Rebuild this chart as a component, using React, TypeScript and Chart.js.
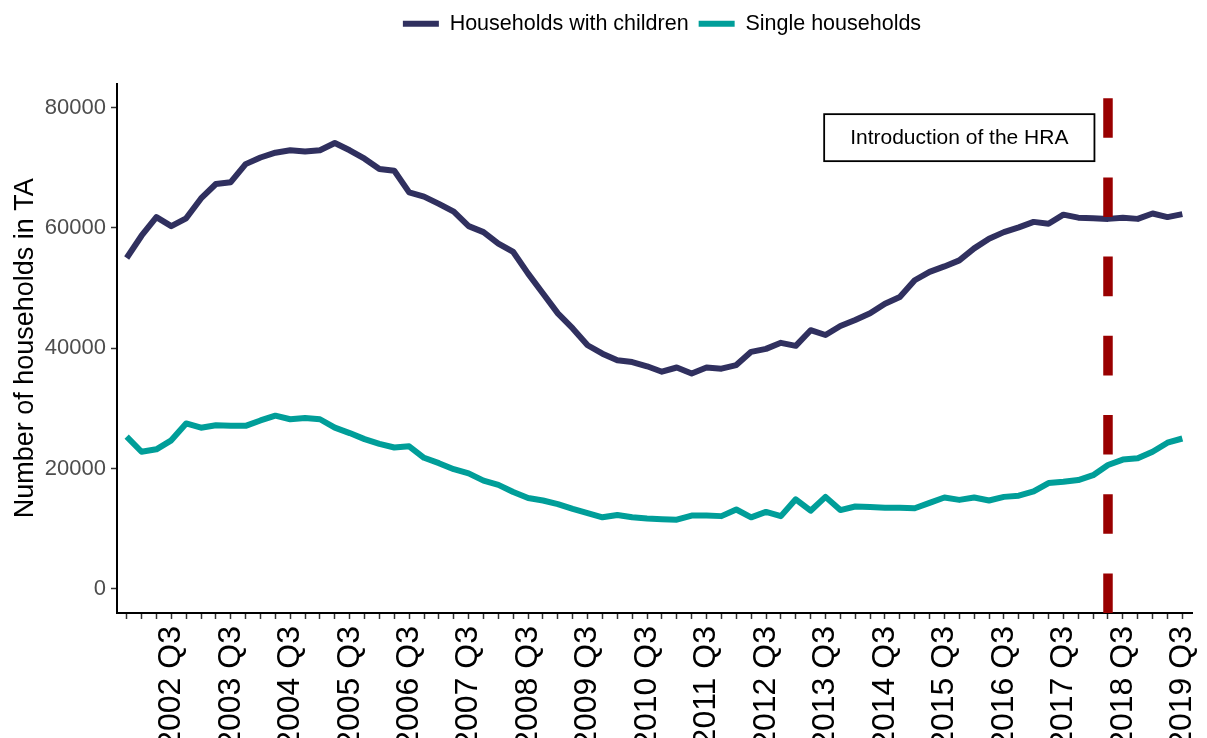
import React, { useEffect, useRef } from "react";
import { Chart, registerables } from "chart.js";

Chart.register(...registerables);

const FONT = "'Liberation Sans', Arial, Helvetica, sans-serif";

const quarterLabels: string[] = [
  "2001 Q4",
  "2002 Q1", "2002 Q2", "2002 Q3", "2002 Q4",
  "2003 Q1", "2003 Q2", "2003 Q3", "2003 Q4",
  "2004 Q1", "2004 Q2", "2004 Q3", "2004 Q4",
  "2005 Q1", "2005 Q2", "2005 Q3", "2005 Q4",
  "2006 Q1", "2006 Q2", "2006 Q3", "2006 Q4",
  "2007 Q1", "2007 Q2", "2007 Q3", "2007 Q4",
  "2008 Q1", "2008 Q2", "2008 Q3", "2008 Q4",
  "2009 Q1", "2009 Q2", "2009 Q3", "2009 Q4",
  "2010 Q1", "2010 Q2", "2010 Q3", "2010 Q4",
  "2011 Q1", "2011 Q2", "2011 Q3", "2011 Q4",
  "2012 Q1", "2012 Q2", "2012 Q3", "2012 Q4",
  "2013 Q1", "2013 Q2", "2013 Q3", "2013 Q4",
  "2014 Q1", "2014 Q2", "2014 Q3", "2014 Q4",
  "2015 Q1", "2015 Q2", "2015 Q3", "2015 Q4",
  "2016 Q1", "2016 Q2", "2016 Q3", "2016 Q4",
  "2017 Q1", "2017 Q2", "2017 Q3", "2017 Q4",
  "2018 Q1", "2018 Q2", "2018 Q3", "2018 Q4",
  "2019 Q1", "2019 Q2", "2019 Q3",
];

const householdsWithChildren: number[] = [
  55000, 58700, 61800, 60300, 61600, 64900, 67300, 67600, 70600, 71700,
  72500, 72900, 72700, 72900, 74100, 72900, 71500, 69800, 69500, 65900,
  65200, 64000, 62700, 60300, 59300, 57400, 56000, 52400, 49100, 45800,
  43300, 40500, 39100, 38000, 37700, 37000, 36100, 36800, 35800, 36800,
  36600, 37200, 39400, 39900, 40900, 40400, 43000, 42200, 43700, 44700,
  45800, 47400, 48500, 51300, 52700, 53600, 54600, 56600, 58200, 59300,
  60100, 61000, 60700, 62200, 61700, 61600, 61500, 61700, 61500, 62400,
  61800, 62300,
];

const singleHouseholds: number[] = [
  25300, 22800, 23200, 24700, 27500, 26800, 27200, 27100, 27100, 28000,
  28800, 28200, 28400, 28200, 26800, 25900, 24900, 24100, 23500, 23700,
  21800, 20900, 19900, 19200, 18000, 17300, 16100, 15100, 14700, 14100,
  13300, 12600, 11900, 12300, 11900, 11700, 11600, 11500, 12200, 12200,
  12100, 13200, 11900, 12800, 12100, 14900, 13000, 15300, 13100, 13700,
  13600, 13500, 13500, 13400, 14300, 15200, 14800, 15200, 14700, 15300,
  15500, 16200, 17600, 17800, 18100, 18900, 20600, 21500, 21700, 22800,
  24300, 25000,
];

const yTickValues: number[] = [0, 20000, 40000, 60000, 80000];

const seriesNames: string[] = ["Households with children", "Single households"];
const seriesColors: string[] = ["#30305f", "#009e99"];

const hraQuarter = "2018 Q2";
const annotationText = "Introduction of the HRA";
const annotationQuarter = "2015 Q4";
const annotationValue = 75000;

export default function App() {
  const canvasRef = useRef<HTMLCanvasElement>(null);

  useEffect(() => {
    if (!canvasRef.current) return;
    const idx = (q: string) => quarterLabels.indexOf(q);

    const hraPlugin = {
      id: "hraMarker",
      afterLayout(chart: any) {
        if (chart.legend) {
          chart.legend.left += 66;
          chart.legend.right += 66;
        }
      },
      afterDatasetsDraw(chart: any) {
        const { ctx, chartArea, scales } = chart;
        const x = scales.x.getPixelForValue(idx(hraQuarter));
        ctx.save();
        ctx.strokeStyle = "#990000";
        ctx.lineWidth = 9.5;
        ctx.lineCap = "butt";
        ctx.setLineDash([39.6, 39.6]);
        ctx.beginPath();
        ctx.moveTo(x, chartArea.bottom);
        ctx.lineTo(x, chartArea.top);
        ctx.stroke();
        ctx.restore();

        const ax = scales.x.getPixelForValue(idx(annotationQuarter));
        const ay = scales.y.getPixelForValue(annotationValue);
        ctx.save();
        ctx.font = `21px ${FONT}`;
        const tw = ctx.measureText(annotationText).width;
        const w = tw + 52;
        const h = 47;
        ctx.fillStyle = "#ffffff";
        ctx.fillRect(ax - w / 2, ay - h / 2, w, h);
        ctx.setLineDash([]);
        ctx.strokeStyle = "#000000";
        ctx.lineWidth = 1.8;
        ctx.strokeRect(ax - w / 2, ay - h / 2, w, h);
        ctx.fillStyle = "#000000";
        ctx.textAlign = "center";
        ctx.textBaseline = "middle";
        ctx.fillText(annotationText, ax, ay + 1);
        ctx.restore();
      },
    };

    const seriesData = [householdsWithChildren, singleHouseholds];

    const chart = new Chart(canvasRef.current, {
      type: "line",
      data: {
        datasets: seriesData.map((vals, si) => ({
          label: seriesNames[si],
          data: vals.map((v, i) => ({ x: i, y: v })),
          borderColor: seriesColors[si],
          backgroundColor: seriesColors[si],
          borderWidth: 6,
          pointRadius: 0,
          tension: 0,
          borderJoinStyle: "round" as const,
          borderCapStyle: "butt" as const,
          xAxisID: "x",
          yAxisID: "y",
        })),
      },
      options: {
        animation: false,
        responsive: true,
        maintainAspectRatio: false,
        events: [],
        layout: { padding: { top: 3, right: 15, bottom: 0, left: 0 } },
        plugins: {
          tooltip: { enabled: false },
          legend: {
            display: true,
            position: "top",
            labels: {
              font: { family: FONT, size: 21.5 },
              color: "#000000",
              boxWidth: 36,
              boxHeight: 6,
              padding: 10,
              generateLabels: (c: any) =>
                c.data.datasets.map((ds: any, i: number) => ({
                  text: ds.label,
                  fillStyle: ds.borderColor,
                  strokeStyle: ds.borderColor,
                  lineWidth: 0,
                  hidden: false,
                  datasetIndex: i,
                  fontColor: "#000000",
                })),
            },
          },
        },
        scales: {
          x: {
            type: "linear",
            position: "bottom",
            min: -0.65,
            max: quarterLabels.length - 1 + 0.65,
            afterBuildTicks: (s: any) => {
              s.ticks = quarterLabels.map((_, i) => ({ value: i }));
            },
            afterFit: (s: any) => {
              s.height = 125;
              s.paddingLeft = 0;
              s.paddingRight = 0;
            },
            ticks: {
              autoSkip: false,
              maxRotation: 90,
              minRotation: 90,
              padding: 7,
              color: "#000000",
              font: { family: FONT, size: 32 },
              callback: (v: any) => {
                const l = quarterLabels[Math.round(Number(v))];
                return l && l.endsWith("Q3") ? l : "";
              },
            },
            grid: {
              drawOnChartArea: false,
              drawTicks: true,
              tickLength: 6,
              tickColor: "#333333",
              tickWidth: 1.5,
            },
            border: { display: true, color: "#000000", width: 2 },
          },
          xTop: {
            type: "linear",
            position: "top",
            display: true,
            ticks: { display: false },
            grid: { display: false, drawTicks: false },
            border: { display: false },
            afterFit: (s: any) => {
              s.height = 39;
            },
          },
          y: {
            type: "linear",
            position: "left",
            min: -4000,
            max: 84000,
            afterBuildTicks: (s: any) => {
              s.ticks = yTickValues.map((v) => ({ value: v }));
            },
            afterFit: (s: any) => {
              s.width = 117;
            },
            ticks: {
              color: "#4d4d4d",
              padding: 5,
              font: { family: FONT, size: 22 },
              callback: (v: any) => String(v),
            },
            grid: {
              drawOnChartArea: false,
              drawTicks: true,
              tickLength: 6,
              tickColor: "#333333",
              tickWidth: 1.5,
            },
            border: { display: true, color: "#000000", width: 2 },
            title: {
              display: true,
              text: "Number of households in TA",
              color: "#000000",
              font: { family: FONT, size: 27 },
              padding: { top: 9, bottom: 0 },
            },
          },
        },
      },
      plugins: [hraPlugin],
    } as any);

    return () => chart.destroy();
  }, []);

  return (
    <div
      style={{
        position: "absolute",
        left: 0,
        top: 0,
        width: 1207,
        height: 738,
        background: "#ffffff",
      }}
    >
      <canvas ref={canvasRef} style={{ display: "block" }} />
    </div>
  );
}
